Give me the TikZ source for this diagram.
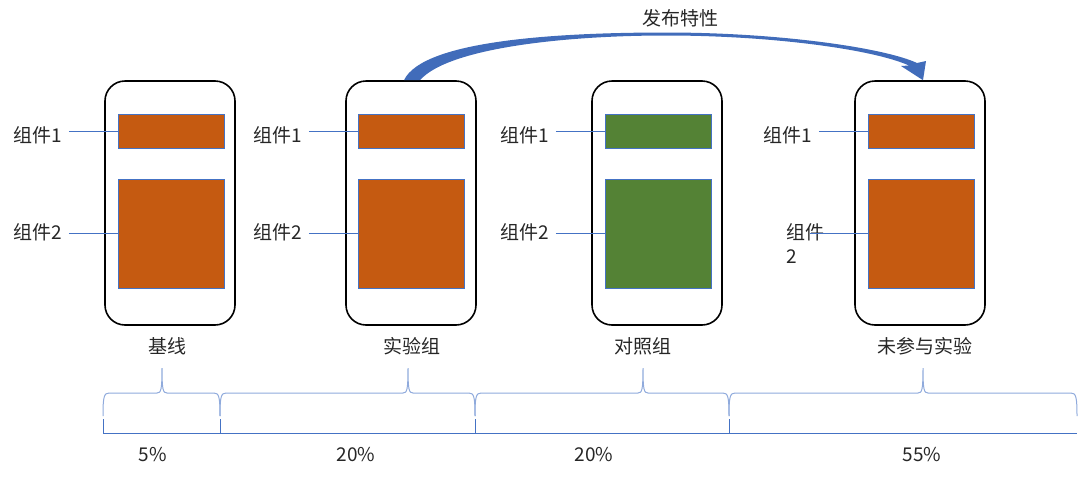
\documentclass[tikz,border=0pt]{standalone}
\usepackage{fontspec}
\setmainfont{Noto Sans CJK SC}
\usetikzlibrary{positioning,calc}
\definecolor{compOrange}{HTML}{C55A11}
\definecolor{compGreen}{HTML}{548235}
\definecolor{edgeBlue}{HTML}{4472C4}
\definecolor{braceBlue}{HTML}{8FAADC}
% brace: left end, tip, right end
\newcommand{\splitbrace}[3]{%
  \draw[brc] (#1,416) .. controls (#1,397) and (#1+1,393) .. (#1+6,393) -- (#2-5,393)
    .. controls (#2-1,393) and (#2,390) .. (#2,368) .. controls (#2,390) and (#2+1,393) .. (#2+5,393)
    -- (#3-6,393) .. controls (#3-1,393) and (#3,397) .. (#3,416);}

\begin{document}
\begin{tikzpicture}[
  x=1pt, y=-1pt,
  every node/.style={font=\fontsize{19}{24}\selectfont, text=black!85},
  phone/.style={draw=black, line width=1.6pt, rounded corners=20pt, minimum width=130pt, minimum height=244pt},
  comp/.style={draw=edgeBlue, line width=0.8pt, minimum width=106pt, inner sep=0pt},
  compA/.style={comp, minimum height=34pt},
  compB/.style={comp, minimum height=109pt},
  lbl/.style={anchor=west, inner sep=0pt},
  lead/.style={draw=edgeBlue, line width=1pt, shorten <=7pt},
  flow/.style={fill=edgeBlue!95!black},
  brc/.style={draw=braceBlue, line width=1pt},
  axis/.style={draw=edgeBlue, line width=1pt}
]
\useasboundingbox (0,0) rectangle (1080,480);

% phones
\node[phone] (base) at (170,203) {};
\node[phone] (treat) at (411,203) {};
\node[phone] (ctrl) at (657,203) {};
\node[phone] (rest) at (920,203) {};

% components
\node[compA, fill=compOrange] (base1) at (171,131) {};
\node[compB, fill=compOrange] (base2) at (171,233.5) {};
\node[compA, fill=compOrange] (treat1) at (411.5,131) {};
\node[compB, fill=compOrange] (treat2) at (411.5,233.5) {};
\node[compA, fill=compGreen] (ctrl1) at (658.5,131) {};
\node[compB, fill=compGreen] (ctrl2) at (658.5,233.5) {};
\node[compA, fill=compOrange] (rest1) at (921,131) {};
\node[compB, fill=compOrange] (rest2) at (921,233.5) {};

% component labels
\node[lbl] (lbase1) at (13,135) {组件1};
\node[lbl] (lbase2) at (13,232) {组件2};
\node[lbl] (ltreat1) at (253,135) {组件1};
\node[lbl] (ltreat2) at (253,232) {组件2};
\node[lbl] (lctrl1) at (500,135) {组件1};
\node[lbl] (lctrl2) at (500,232) {组件2};
\node[lbl] (lrest1) at (763,135) {组件1};
\node[lbl, align=left] (lrest2) at (786,244) {组件\\2};
\coordinate (lrest2tap) at (810,233.5);

\draw[lead] (base1.west -| lbase1.east) -- (base1.west);
\draw[lead] (base2.west -| lbase2.east) -- (base2.west);
\draw[lead] (treat1.west -| ltreat1.east) -- (treat1.west);
\draw[lead] (treat2.west -| ltreat2.east) -- (treat2.west);
\draw[lead] (ctrl1.west -| lctrl1.east) -- (ctrl1.west);
\draw[lead] (ctrl2.west -| lctrl2.east) -- (ctrl2.west);
\draw[lead] (rest1.west -| lrest1.east) -- (rest1.west);
\draw[lead, shorten <=0pt] (lrest2tap) -- (rest2.west);

% captions
\node (capbase) at (167,346) {基线};
\node (captreat) at (412,346) {实验组};
\node (capctrl) at (643,346) {对照组};
\node (caprest) at (925,346) {未参与实验};

% release arrow
\coordinate (tailL) at ([xshift=-7pt]treat.north);
\coordinate (tailR) at ([xshift=9pt]treat.north);
\coordinate (tip) at ([xshift=3pt]rest.north);
\fill[flow] (tailL) .. controls (423,40) and (560,32.5) .. (666,32.5)
  .. controls (780,32.5) and (885,48) .. (917,63) -- (926,61) -- (tip) -- (901,66) -- (909,65.5)
  .. controls (872,49) and (770,35.5) .. (666,35.5)
  .. controls (565,35.5) and (448,48) .. (tailR) -- cycle;
\node (release) at (680,18) {发布特性};

% traffic split
\splitbrace{103}{162}{220}
\splitbrace{220}{408}{475}
\splitbrace{475}{643}{729}
\splitbrace{729}{923}{1077}
\draw[axis] (103,419) -- (103,433) -- (1077,433);
\draw[axis] (220,419) -- (220,433);
\draw[axis] (475,419) -- (475,433);
\draw[axis] (729,419) -- (729,433);

\node (pc1) at (153,455) {5\%};
\node (pc2) at (356,455) {20\%};
\node (pc3) at (594,455) {20\%};
\node (pc4) at (922,455) {55\%};
\end{tikzpicture}
\end{document}
